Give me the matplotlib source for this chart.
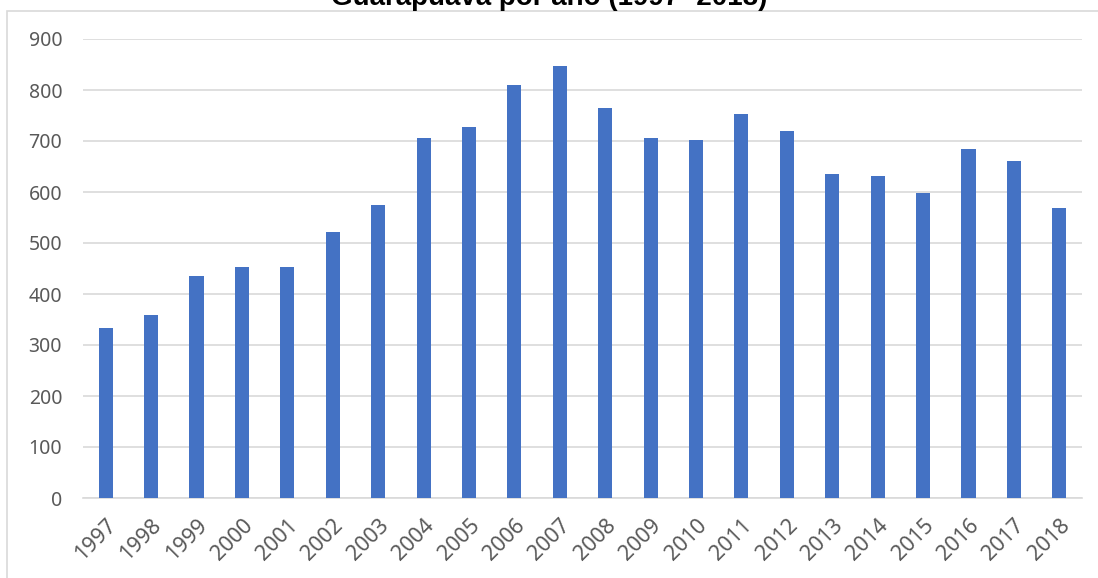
import matplotlib
matplotlib.use("Agg")
import matplotlib.pyplot as plt
from matplotlib.patches import Rectangle

years = [str(y) for y in range(1997, 2019)]
values = [333, 359, 435, 453, 453, 522, 575, 706, 727, 810, 847,
          765, 706, 702, 753, 720, 635, 631, 598, 684, 660, 569]
y_ticks = [0, 100, 200, 300, 400, 500, 600, 700, 800, 900]
title = "Guarapuava por ano (1997- 2018)"

W, H = 1098, 578
fig = plt.figure(figsize=(W / 100, H / 100), dpi=100)
ax = fig.add_axes([83 / W, 1 - 498 / H, (1082 - 83) / W, (498 - 39) / H])

x = range(len(years))
ax.bar(x, values, width=0.31, color="#4472C4", zorder=3)
ax.set_xlim(-0.5, len(years) - 0.5)
ax.set_ylim(0, 900)
ax.set_yticks(y_ticks)
ax.set_xticks(list(x))
ax.set_xticklabels(years, rotation=45, ha="right", rotation_mode="anchor")

for s in ["top", "right", "left"]:
    ax.spines[s].set_visible(False)
ax.spines["bottom"].set_color("#d9d9d9")
ax.spines["bottom"].set_linewidth(1.2)
ax.grid(axis="y", color="#d9d9d9", lw=1.2, zorder=0)
ax.tick_params(axis="both", length=0, labelcolor="#595959",
               labelfontfamily="Noto Sans")
ax.tick_params(axis="y", pad=15, labelsize=14)
ax.tick_params(axis="x", pad=12, labelsize=15.5)

# chart border
fig.patches.append(Rectangle((7 / W, -0.02), 1.1, 1 - 11 / H + 0.02,
                             transform=fig.transFigure, fill=False,
                             edgecolor="#d9d9d9", lw=1.2))

fig.text(0.5, 1 - 5 / H, title, ha="center", va="baseline",
         fontsize=20, fontweight="bold", family="Liberation Sans")

fig.savefig("out.png", dpi=100)
